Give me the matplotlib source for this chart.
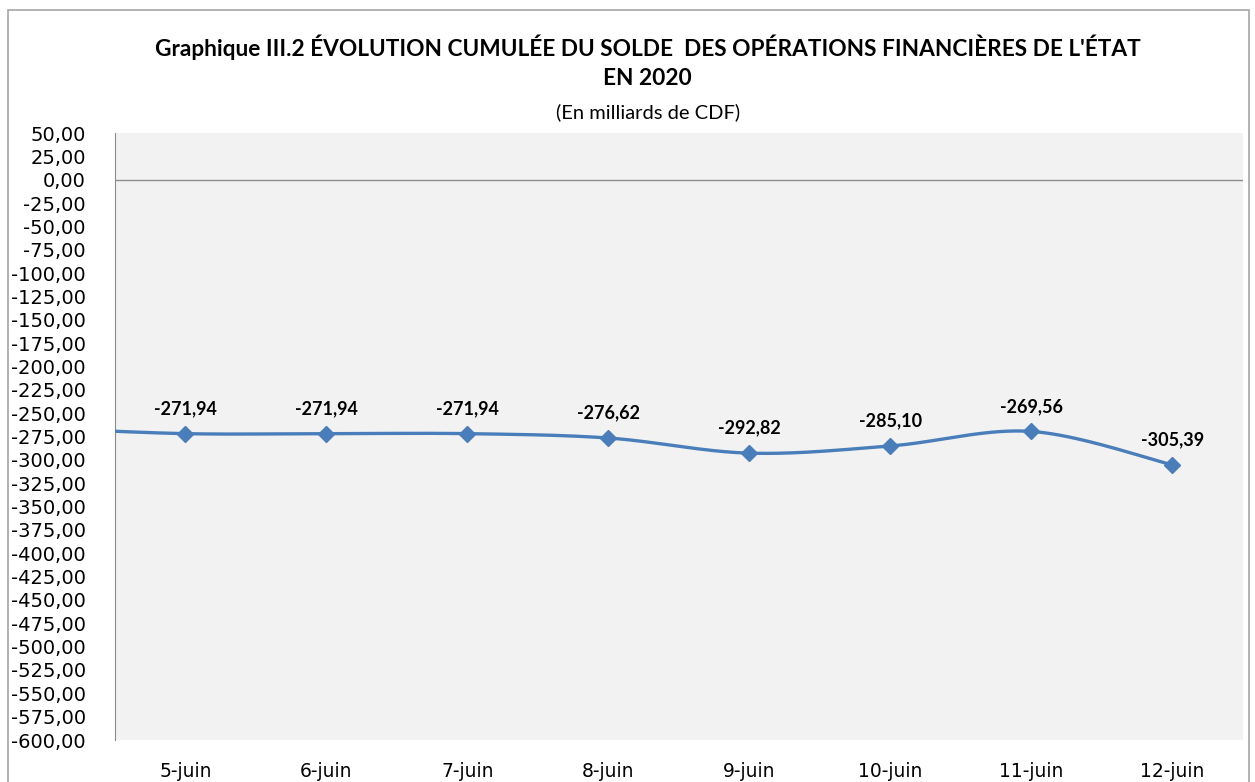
import matplotlib

matplotlib.use("Agg")
import matplotlib.pyplot as plt
import numpy as np
from matplotlib.patches import Rectangle

# data ---------------------------------------------------------------------
categories = ["5-juin", "6-juin", "7-juin", "8-juin", "9-juin", "10-juin", "11-juin", "12-juin"]
values = [-271.94, -271.94, -271.94, -276.62, -292.82, -285.10, -269.56, -305.39]
# value of the day before the first category (off the left edge, only the curve shows)
prev_value = -266.0
y_ticks = list(range(-600, 51, 25))

C_LINE = "#4a7ebb"
C_AXIS = "#8c8c8c"
C_BG = "#f2f2f2"
TXT = "Lato"


def fr(v, nd=2):
    return f"{v:.{nd}f}".replace(".", ",")


def smooth(xs, ys, n=40):
    """Excel-like smoothed line (Catmull-Rom as cubic Bezier)."""
    xs, ys = np.asarray(xs, float), np.asarray(ys, float)
    ox, oy = [], []
    for i in range(len(xs) - 1):
        i0, i3 = max(i - 1, 0), min(i + 2, len(xs) - 1)
        p0 = np.array([xs[i], ys[i]])
        p3 = np.array([xs[i + 1], ys[i + 1]])
        c1 = p0 + (p3 - np.array([xs[i0], ys[i0]])) / 6
        c2 = p3 - (np.array([xs[i3], ys[i3]]) - p0) / 6
        t = np.linspace(0, 1, n)[:, None]
        pts = (1 - t) ** 3 * p0 + 3 * (1 - t) ** 2 * t * c1 + 3 * (1 - t) * t ** 2 * c2 + t ** 3 * p3
        ox.extend(pts[:, 0])
        oy.extend(pts[:, 1])
    return np.array(ox), np.array(oy)


fig = plt.figure(figsize=(12.55, 7.82), dpi=100)
fig.patches.append(Rectangle((0.006, -0.01), 0.989, 0.997, transform=fig.transFigure,
                             fill=False, edgecolor="#a6a6a6", lw=1.2))
ax = fig.add_axes([0.0916, 0.0537, 0.8988, 0.7762])
ax.set_facecolor(C_BG)

x = np.arange(len(categories))
sx, sy = smooth(np.r_[-1, x], np.r_[prev_value, values])
ax.plot(sx, sy, color=C_LINE, lw=2.4, solid_capstyle="round", zorder=3)
ax.plot(x, values, ls="none", marker="D", ms=8.5, color=C_LINE, zorder=4)
for xi, v in zip(x, values):
    ax.annotate(fr(v), (xi, v), xytext=(0, 12), textcoords="offset points",
                ha="center", va="bottom", fontsize=13, fontweight="bold", family=TXT)

ax.axhline(0, color=C_AXIS, lw=1, zorder=2)
ax.set_xlim(-0.5, len(categories) - 0.5)
ax.set_ylim(-600, 50)
ax.set_yticks(y_ticks)
ax.set_yticklabels([fr(v) for v in y_ticks], fontsize=14)
ax.set_xticks(x)
ax.set_xticklabels(categories, fontsize=13.5)
ax.tick_params(axis="both", length=0)
ax.tick_params(axis="x", pad=16)
ax.tick_params(axis="y", pad=21)
for s in ["top", "right", "bottom"]:
    ax.spines[s].set_visible(False)
ax.spines["left"].set_color(C_AXIS)

fig.text(0.516, 0.940, "Graphique III.2 ÉVOLUTION CUMULÉE DU SOLDE  DES OPÉRATIONS FINANCIÈRES DE L'ÉTAT",
         ha="center", va="center", fontsize=16.3, fontweight="bold", family=TXT)
fig.text(0.516, 0.900, "EN 2020", ha="center", va="center", fontsize=16.3,
         fontweight="bold", family=TXT)
fig.text(0.516, 0.857, "(En milliards de CDF)", ha="center", va="center", fontsize=14.5, family=TXT)

fig.savefig("out.png", dpi=100)
